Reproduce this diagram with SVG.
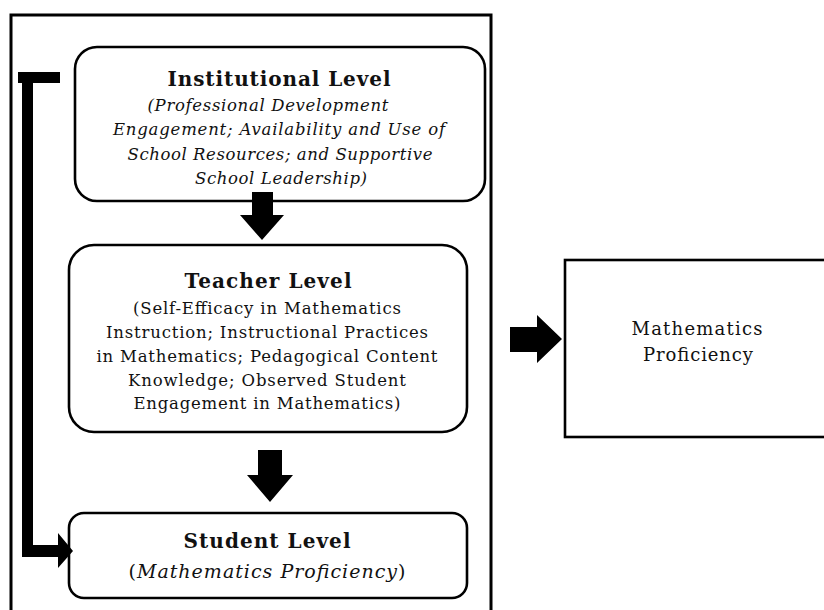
<svg xmlns="http://www.w3.org/2000/svg" width="824" height="610" viewBox="0 0 824 610">
<style>
.box{fill:#fff;stroke:#000;stroke-width:2.6}
.t{font-family:"DejaVu Serif","Liberation Serif",serif;fill:#111;text-anchor:middle}
.h{font-size:20px;font-weight:bold}
.b{font-size:16.5px}
.i{font-style:italic}
.arr{fill:#000}
</style>
<rect width="824" height="610" fill="#fff"/>
<rect x="11" y="15" width="480" height="610" fill="none" stroke="#000" stroke-width="3"/>
<g id="institutional">
<rect class="box" x="75" y="47" width="410" height="154" rx="22"/>
<text class="t h" x="279" y="86" textLength="223">Institutional Level</text>
<text class="t b i" x="268" y="111" textLength="241">(Professional Development</text>
<text class="t b i" x="279" y="135" textLength="332">Engagement; Availability and Use of</text>
<text class="t b i" x="280" y="160" textLength="305">School Resources; and Supportive</text>
<text class="t b i" x="281" y="184" textLength="172">School Leadership)</text>
</g>
<g id="teacher">
<rect class="box" x="69" y="245" width="398" height="187" rx="25"/>
<text class="t h" x="268" y="288" textLength="167">Teacher Level</text>
<text class="t b" x="267" y="314" textLength="268">(Self-Efficacy in Mathematics</text>
<text class="t b" x="267" y="338" textLength="322">Instruction; Instructional Practices</text>
<text class="t b" x="267" y="362" textLength="341">in Mathematics; Pedagogical Content</text>
<text class="t b" x="267" y="386" textLength="278">Knowledge; Observed Student</text>
<text class="t b" x="267" y="409" textLength="267">Engagement in Mathematics)</text>
</g>
<g id="student">
<rect class="box" x="69" y="513" width="398" height="85" rx="15"/>
<text class="t h" x="267" y="548" textLength="167">Student Level</text>
<text class="t" x="267" y="578" style="font-size:19px" textLength="277">(<tspan font-style="italic">Mathematics Proficiency</tspan>)</text>
</g>
<g id="proficiency">
<rect class="box" x="565" y="260" width="270" height="177"/>
<text class="t" x="697" y="335" style="font-size:18px" textLength="131">Mathematics</text>
<text class="t" x="698" y="361" style="font-size:18px" textLength="110">Proficiency</text>
</g>
<g id="connectors">
<path class="arr" d="M18,72 H60 V83 H33 V545 H58 V533 L73,551 L58,568 V557 H22 V83 H18 Z"/>
<polygon class="arr" points="252,192 273,192 273,215 284,215 262,240 240,215 252,215"/>
<polygon class="arr" points="258,450 282,450 282,475 293,475 270,502 247,475 258,475"/>
<polygon class="arr" points="510,327 537,327 537,315 562,339 537,363 537,352 510,352"/>
</g>
</svg>
